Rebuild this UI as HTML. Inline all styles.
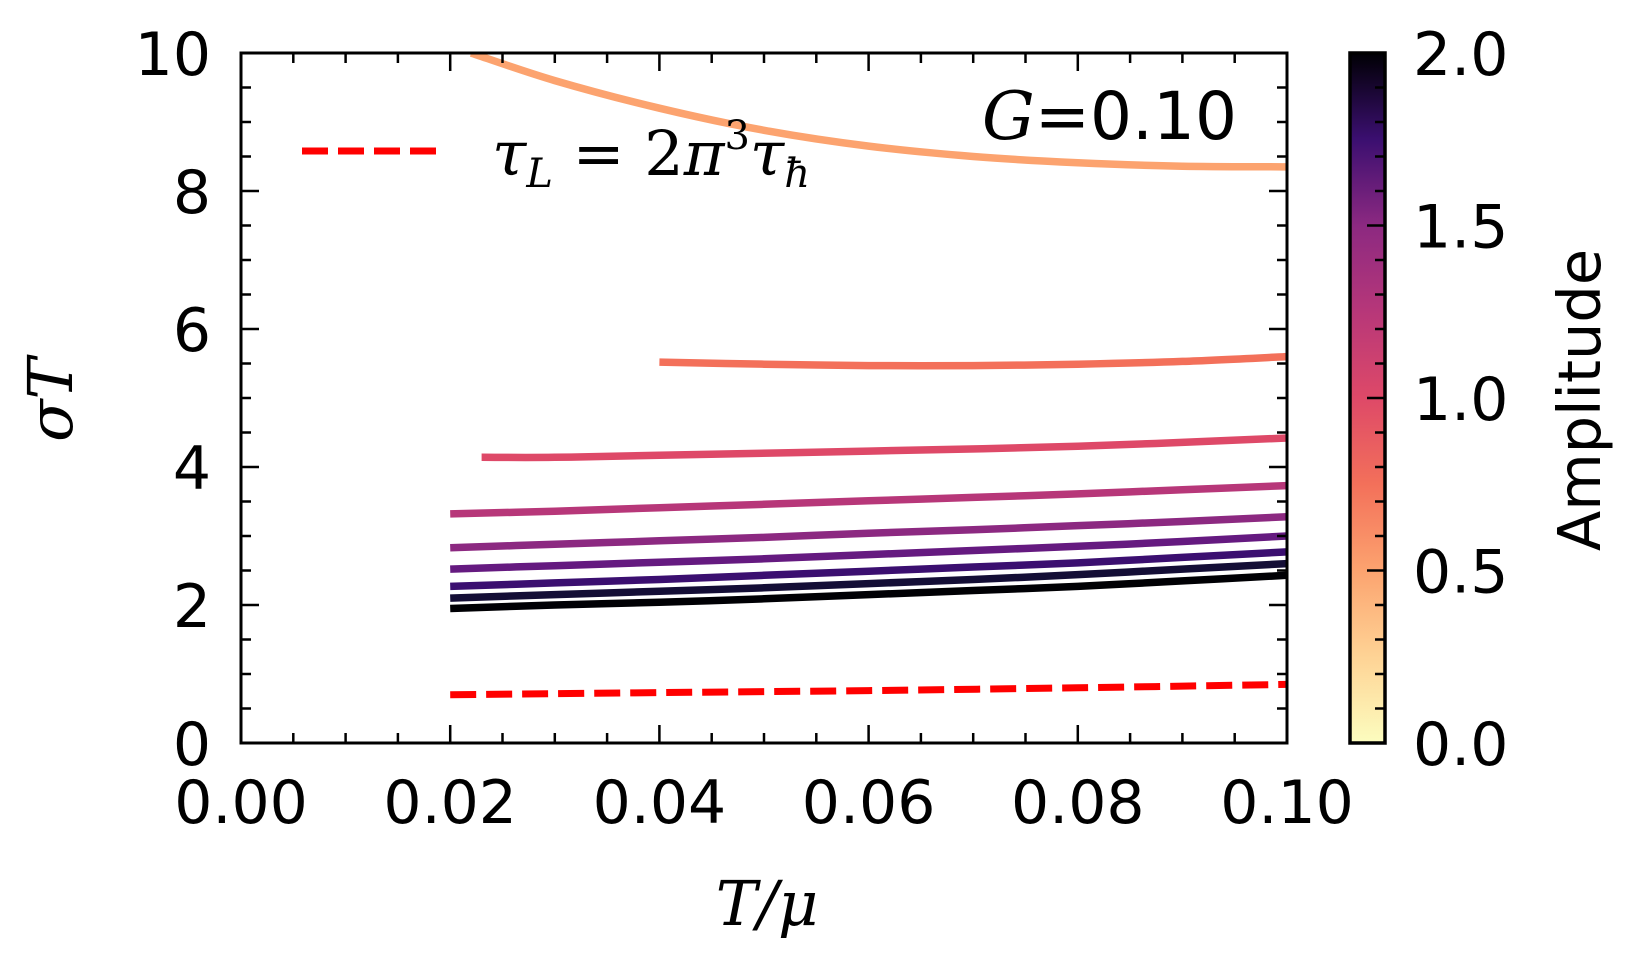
<!DOCTYPE html>
<html><head><meta charset="utf-8"><style>
body{margin:0;background:#fff}
svg{display:block}
text{font-family:"DejaVu Sans","Liberation Sans",sans-serif;fill:#000}
</style></head><body>
<svg id="chart" width="1644" height="965" viewBox="0 0 1644 965" xmlns="http://www.w3.org/2000/svg">
<defs>
<linearGradient id="magma" x1="0" y1="1" x2="0" y2="0">
<stop offset="0" stop-color="#fcfdbf"/><stop offset="0.125" stop-color="#fed395"/><stop offset="0.25" stop-color="#fca36f"/>
<stop offset="0.375" stop-color="#f3705a"/><stop offset="0.5" stop-color="#de4968"/><stop offset="0.625" stop-color="#b73779"/>
<stop offset="0.75" stop-color="#8c2981"/><stop offset="0.875" stop-color="#3b0f70"/><stop offset="1" stop-color="#000004"/>
</linearGradient>
<clipPath id="clip"><rect x="241" y="53" width="1046" height="690"/></clipPath>
</defs>
<g id="series" clip-path="url(#clip)"></g>
<g id="axes"></g>
<text transform="translate(1600,400) rotate(-90)" text-anchor="middle" font-size="59">Amplitude</text>
<text transform="translate(72,400) rotate(-90)" text-anchor="middle" font-size="62" font-style="italic" style="font-family:'DejaVu Serif','Liberation Serif',serif">σT</text>
<text x="767" y="925" text-anchor="middle" font-size="62" font-style="italic" style="font-family:'DejaVu Serif','Liberation Serif',serif">T/μ</text>
<text x="1237" y="139" text-anchor="end" font-size="66"><tspan font-style="italic" style="font-family:'DejaVu Serif',serif">G</tspan>=0.10</text>
<line x1="302" y1="151" x2="437" y2="151" stroke="#ff0000" stroke-width="7" stroke-dasharray="26 10"/>
<text x="492" y="175" font-size="62" font-style="italic" style="font-family:'DejaVu Serif','Liberation Serif',serif">τ<tspan font-size="40" dy="12">L</tspan><tspan dy="-12" font-style="normal"> = 2</tspan>π<tspan font-size="40" dy="-26" font-style="normal">3</tspan><tspan dy="26">τ</tspan><tspan font-size="40" dy="12">ħ</tspan></text>
</svg>
<script>
const xs=[0.02,0.03,0.04,0.05,0.06,0.07,0.08,0.09,0.10];
const amplitudes=[0.4,0.6,0.8,1.0,1.2,1.4,1.6,1.8,2.0];
const colors=["#fca36f","#f3705a","#de4968","#b73779","#8c2981","#651a80","#3b0f70","#140e36","#000004"];
const seriesX=[
 [0.022,0.03,0.04,0.05,0.06,0.07,0.08,0.09,0.10],
 [0.04,0.05,0.06,0.07,0.08,0.09,0.10],
 [0.023,0.03,0.04,0.06,0.08,0.10],
 xs,xs,xs,xs,xs,xs];
const seriesY=[
 [10.0,9.6,9.2,8.88,8.65,8.5,8.41,8.36,8.35],
 [5.52,5.49,5.47,5.47,5.49,5.53,5.6],
 [4.14,4.14,4.17,4.23,4.3,4.42],
 [3.32,3.36,3.41,3.46,3.51,3.56,3.61,3.67,3.73],
 [2.83,2.88,2.93,2.98,3.04,3.09,3.15,3.21,3.28],
 [2.52,2.57,2.62,2.67,2.73,2.79,2.85,2.92,3.0],
 [2.27,2.32,2.37,2.43,2.49,2.55,2.61,2.69,2.77],
 [2.1,2.15,2.2,2.25,2.31,2.37,2.44,2.52,2.6],
 [1.95,2.0,2.04,2.09,2.15,2.21,2.27,2.35,2.43]];
const refX=[0.02,0.04,0.06,0.08,0.10];
const refY=[0.70,0.73,0.76,0.80,0.85];
const xTicks=[0,0.02,0.04,0.06,0.08,0.10];
const xTickLabels=["0.00","0.02","0.04","0.06","0.08","0.10"];
const yTicks=[0,2,4,6,8,10];
const yTickLabels=["0","2","4","6","8","10"];
const cTicks=[0,0.5,1.0,1.5,2.0];
const cTickLabels=["0.0","0.5","1.0","1.5","2.0"];

const L=241,R=1287,T=53,B=743;
const sx=v=>L+(v-0)/(0.1-0)*(R-L);
const sy=v=>B-(v-0)/(10-0)*(B-T);
const CL=1350,CR=1385;
const cy=v=>B-v/2*(B-T);
const NS="http://www.w3.org/2000/svg";
function mk(tag,attrs,parent){const e=document.createElementNS(NS,tag);for(const k in attrs)e.setAttribute(k,attrs[k]);parent.appendChild(e);return e;}
const sg=document.getElementById('series'), ag=document.getElementById('axes');
function smooth(px,py){
 const P=px.map((x,i)=>[sx(x),sy(py[i])]);
 let d='M'+P[0][0].toFixed(1)+','+P[0][1].toFixed(1);
 for(let i=0;i<P.length-1;i++){
  const p0=P[Math.max(0,i-1)],p1=P[i],p2=P[i+1],p3=P[Math.min(P.length-1,i+2)];
  const c1=[p1[0]+(p2[0]-p0[0])/6,p1[1]+(p2[1]-p0[1])/6];
  const c2=[p2[0]-(p3[0]-p1[0])/6,p2[1]-(p3[1]-p1[1])/6];
  d+=' C'+c1.map(v=>v.toFixed(1)).join(',')+' '+c2.map(v=>v.toFixed(1)).join(',')+' '+p2.map(v=>v.toFixed(1)).join(',');
 }
 return d;
}
seriesY.forEach((ys,i)=>{
 const p=mk('path',{d:smooth(seriesX[i],ys),fill:'none',stroke:colors[i],'stroke-width':7.5},sg);
 
 
});
const rp=mk('path',{d:smooth(refX,refY),fill:'none',stroke:'#ff0000','stroke-width':7,'stroke-dasharray':'26 10'},sg);



const fr=mk('rect',{x:L,y:T,width:R-L,height:B-T,fill:'none',stroke:'#000','stroke-width':3},ag);


for(let v=0;v<=0.1001;v+=0.005){const x=sx(v);const major=Math.abs(v/0.02-Math.round(v/0.02))<1e-6;const len=major?18:10;
 mk('line',{x1:x,x2:x,y1:B,y2:B-len,stroke:'#000','stroke-width':2.5},ag);
 mk('line',{x1:x,x2:x,y1:T,y2:T+len,stroke:'#000','stroke-width':2.5},ag);}
xTicks.forEach((v,i)=>{const t=mk('text',{x:sx(v),y:823,'font-size':60,'text-anchor':'middle'},ag);t.textContent=xTickLabels[i];
 
 });
for(let v=0;v<=10.001;v+=0.5){const y=sy(v);const major=Math.abs(v/2-Math.round(v/2))<1e-6;const len=major?18:10;
 mk('line',{x1:L,x2:L+len,y1:y,y2:y,stroke:'#000','stroke-width':2.5},ag);
 mk('line',{x1:R,x2:R-len,y1:y,y2:y,stroke:'#000','stroke-width':2.5},ag);}
yTicks.forEach((v,i)=>{const t=mk('text',{x:211,y:sy(v)+22,'font-size':60,'text-anchor':'end'},ag);t.textContent=yTickLabels[i];
 
 });
const cb=mk('rect',{x:CL,y:T,width:CR-CL,height:B-T,fill:'url(#magma)',stroke:'#000','stroke-width':3.5},ag);


for(let v=0;v<=2.001;v+=0.1){const y=cy(v);const major=Math.abs(v/0.5-Math.round(v/0.5))<1e-6;const len=major?18:10;
 mk('line',{x1:CR,x2:CR-len,y1:y,y2:y,stroke:'#000','stroke-width':2.5},ag);}
cTicks.forEach((v,i)=>{const t=mk('text',{x:1413,y:cy(v)+22,'font-size':60},ag);t.textContent=cTickLabels[i];
 
 });
</script>
</body></html>
